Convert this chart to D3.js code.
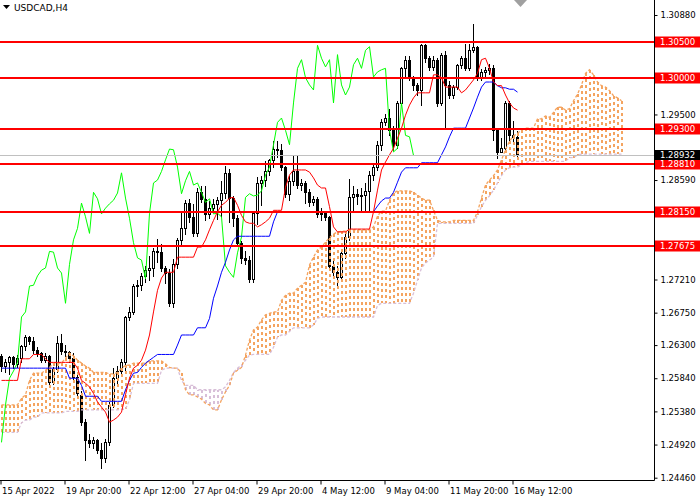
<!DOCTYPE html>
<html>
<head>
<meta charset="utf-8">
<script src="https://cdnjs.cloudflare.com/ajax/libs/d3/7.8.5/d3.min.js"></script>
<style>
  body { margin: 0; background: #fff; }
  svg { display: block; }
  text { font-family: "DejaVu Sans", sans-serif; }
</style>
</head>
<body>
<svg id="chart" width="700" height="500"></svg>
<script>
// USDCAD H4 candles, bar 0 = 15 Apr 2022
var opens = [
  1.2615,1.2601,1.2606,1.2613,1.2604,1.2612,1.2629,1.2641,1.2636,1.2623,
  1.2619,1.2609,1.2615,1.2579,1.2597,1.2633,1.2622,1.2620,1.2612,1.2586,
  1.2561,1.2523,1.2498,1.2494,1.2498,1.2484,1.2473,1.2495,1.2547,1.2584,
  1.2594,1.2606,1.2669,1.2676,1.2712,1.2713,1.2726,1.2734,1.2737,1.2760,
  1.2759,1.2737,1.2730,1.2688,1.2742,1.2776,1.2792,1.2827,1.2808,1.2785,
  1.2842,1.2833,1.2812,1.2820,1.2826,1.2831,1.2841,1.2869,1.2834,1.2806,
  1.2772,1.2751,1.2748,1.2722,1.2813,1.2855,1.2859,1.2871,1.2887,1.2902,
  1.2901,1.2877,1.2840,1.2858,1.2871,1.2852,1.2855,1.2842,1.2828,1.2833,
  1.2812,1.2813,1.2808,1.2740,1.2731,1.2724,1.2758,1.2780,1.2835,1.2840,
  1.2837,1.2838,1.2844,1.2866,1.2877,1.2908,1.2939,1.2945,1.2928,1.2908,
  1.2966,1.3014,1.3026,1.3001,1.2991,1.2984,1.3046,1.3028,1.3016,1.3026,
  1.2966,1.3033,1.2991,1.2977,1.2988,1.3019,1.3028,1.3014,1.3039,1.3044,
  1.3002,1.3009,1.3012,1.3014,1.2928,1.2898,1.2903,1.2966,1.2921,1.2919
];
var highs = [
  1.2619,1.2612,1.2616,1.2616,1.2617,1.2631,1.2645,1.2644,1.2643,1.2629,
  1.2622,1.2620,1.2617,1.2601,1.2644,1.2647,1.2631,1.2623,1.2620,1.2591,
  1.2568,1.2529,1.2508,1.2504,1.2501,1.2495,1.2501,1.2552,1.2599,1.2602,
  1.2612,1.2672,1.2684,1.2716,1.2722,1.2731,1.2741,1.2755,1.2766,1.2779,
  1.2772,1.2741,1.2737,1.2751,1.2780,1.2815,1.2833,1.2834,1.2827,1.2849,
  1.2852,1.2852,1.2831,1.2834,1.2837,1.2859,1.2880,1.2876,1.2838,1.2812,
  1.2776,1.2762,1.2755,1.2817,1.2865,1.2866,1.2887,1.2890,1.2915,1.2915,
  1.2910,1.2880,1.2866,1.2894,1.2894,1.2862,1.2859,1.2848,1.2838,1.2837,
  1.2822,1.2817,1.2810,1.2751,1.2741,1.2762,1.2787,1.2862,1.2852,1.2848,
  1.2849,1.2856,1.2873,1.2884,1.2915,1.2945,1.2952,1.2959,1.2935,1.2970,
  1.3017,1.3033,1.3033,1.3005,1.2995,1.3049,1.3049,1.3033,1.3033,1.3030,
  1.3037,1.3039,1.2998,1.2992,1.3021,1.3033,1.3049,1.3049,1.3077,1.3046,
  1.3014,1.3017,1.3021,1.3020,1.2931,1.2919,1.2970,1.2970,1.2942,1.2928
];
var lows = [
  1.2594,1.2592,1.2590,1.2598,1.2599,1.2606,1.2623,1.2631,1.2619,1.2615,
  1.2606,1.2606,1.2574,1.2576,1.2592,1.2617,1.2615,1.2606,1.2581,1.2559,
  1.2519,1.2470,1.2488,1.2487,1.2480,1.2459,1.2468,1.2491,1.2544,1.2576,
  1.2587,1.2595,1.2665,1.2673,1.2698,1.2706,1.2717,1.2720,1.2726,1.2745,
  1.2733,1.2716,1.2684,1.2683,1.2737,1.2770,1.2784,1.2801,1.2781,1.2781,
  1.2828,1.2803,1.2806,1.2815,1.2805,1.2808,1.2834,1.2801,1.2795,1.2767,
  1.2744,1.2742,1.2717,1.2717,1.2798,1.2824,1.2851,1.2866,1.2877,1.2891,
  1.2873,1.2835,1.2831,1.2852,1.2848,1.2845,1.2827,1.2823,1.2824,1.2808,
  1.2803,1.2803,1.2734,1.2723,1.2713,1.2720,1.2751,1.2776,1.2817,1.2826,
  1.2817,1.2815,1.2815,1.2859,1.2873,1.2901,1.2935,1.2921,1.2901,1.2903,
  1.2963,1.3002,1.2998,1.2984,1.2977,1.2963,1.3023,1.3012,1.3012,1.2962,
  1.2963,1.2931,1.2973,1.2973,1.2985,1.3014,1.3012,1.3012,1.3037,1.2998,
  1.2998,1.3003,1.3006,1.2915,1.2890,1.2898,1.2901,1.2910,1.2912,1.2890
];
var closes = [
  1.2601,1.2606,1.2613,1.2604,1.2612,1.2629,1.2641,1.2636,1.2623,1.2619,
  1.2609,1.2615,1.2579,1.2597,1.2633,1.2622,1.2620,1.2612,1.2586,1.2563,
  1.2523,1.2498,1.2494,1.2498,1.2484,1.2473,1.2495,1.2547,1.2584,1.2594,
  1.2606,1.2669,1.2676,1.2712,1.2713,1.2726,1.2734,1.2737,1.2760,1.2759,
  1.2737,1.2730,1.2688,1.2742,1.2776,1.2792,1.2827,1.2808,1.2785,1.2842,
  1.2833,1.2812,1.2820,1.2826,1.2831,1.2841,1.2869,1.2834,1.2806,1.2772,
  1.2751,1.2748,1.2722,1.2813,1.2855,1.2859,1.2871,1.2887,1.2902,1.2901,
  1.2877,1.2840,1.2858,1.2871,1.2852,1.2855,1.2842,1.2828,1.2833,1.2812,
  1.2813,1.2808,1.2740,1.2731,1.2724,1.2758,1.2780,1.2835,1.2840,1.2837,
  1.2838,1.2844,1.2866,1.2877,1.2908,1.2939,1.2945,1.2928,1.2908,1.2966,
  1.3014,1.3026,1.3001,1.2991,1.2984,1.3046,1.3028,1.3016,1.3026,1.2966,
  1.3033,1.2991,1.2977,1.2988,1.3019,1.3028,1.3014,1.3039,1.3044,1.3002,
  1.3009,1.3012,1.3014,1.2928,1.2898,1.2903,1.2966,1.2921,1.2919,1.28932
];

// Ichimoku lines
var tenkan = [
  1.2581,1.2581,1.2581,1.2581,1.2581,1.2611,1.2611,1.2611,1.2617,1.2617,
  1.2617,1.2611,1.2606,1.2606,1.2606,1.2606,1.2606,1.2606,1.2606,1.2598,
  1.2581,1.2577,1.2572,1.2563,1.2551,1.2544,1.2537,1.2523,1.2526,1.2530,
  1.2537,1.2561,1.2584,1.2598,1.2602,1.2609,1.2623,1.2644,1.2676,1.2706,
  1.2723,1.2731,1.2731,1.2731,1.2752,1.2752,1.2752,1.2752,1.2752,1.2766,
  1.2766,1.2776,1.2790,1.2803,1.2815,1.2824,1.2828,1.2834,1.2835,1.2824,
  1.2810,1.2801,1.2799,1.2799,1.2794,1.2797,1.2801,1.2806,1.2817,1.2817,
  1.2817,1.2849,1.2866,1.2873,1.2873,1.2873,1.2873,1.2870,1.2862,1.2852,
  1.2848,1.2848,1.2822,1.2794,1.2787,1.2787,1.2787,1.2791,1.2791,1.2791,
  1.2791,1.2791,1.2791,1.2815,1.2845,1.2873,1.2884,1.2894,1.2903,1.2917,
  1.2931,1.2949,1.2963,1.2973,1.2980,1.2980,1.2980,1.2980,1.3005,1.3005,
  1.3001,1.2988,1.2988,1.2988,1.2988,1.2980,1.2984,1.2991,1.2998,1.3007,
  1.3026,1.3028,1.3014,1.2995,1.2990,1.2990,1.2977,1.2966,1.2959,1.2956
];
var kijun = [
  1.2598,1.2598,1.2598,1.2598,1.2598,1.2598,1.2598,1.2598,1.2598,1.2598,
  1.2598,1.2598,1.2598,1.2598,1.2598,1.2598,1.2598,1.2584,1.2584,1.2584,
  1.2574,1.2559,1.2559,1.2559,1.2559,1.2552,1.2552,1.2552,1.2552,1.2552,
  1.2552,1.2568,1.2581,1.2591,1.2592,1.2599,1.2605,1.2609,1.2613,1.2617,
  1.2617,1.2617,1.2617,1.2617,1.2630,1.2644,1.2644,1.2644,1.2644,1.2654,
  1.2654,1.2654,1.2667,1.2695,1.2712,1.2731,1.2745,1.2762,1.2776,1.2781,
  1.2781,1.2781,1.2781,1.2781,1.2781,1.2781,1.2781,1.2781,1.2801,1.2815,
  1.2815,1.2815,1.2815,1.2815,1.2815,1.2815,1.2815,1.2815,1.2815,1.2815,
  1.2815,1.2815,1.2815,1.2815,1.2815,1.2815,1.2815,1.2815,1.2815,1.2815,
  1.2815,1.2815,1.2815,1.2815,1.2823,1.2830,1.2834,1.2834,1.2842,1.2856,
  1.2870,1.2876,1.2876,1.2876,1.2876,1.2883,1.2883,1.2883,1.2883,1.2883,
  1.2894,1.2905,1.2919,1.2931,1.2931,1.2931,1.2931,1.2945,1.2959,1.2974,
  1.2988,1.2995,1.2995,1.2995,1.2990,1.2987,1.2987,1.2985,1.2985,1.2981
];
// cloud edges, 26 bars past the last candle
var spanA = [
  1.2547,1.2547,1.2547,1.2547,1.2547,1.2556,1.2561,1.2581,1.2591,1.2591,
  1.2591,1.2595,1.2599,1.2605,1.2605,1.2605,1.2612,1.2619,1.2615,1.2609,
  1.2605,1.2601,1.2598,1.2592,1.2592,1.2592,1.2592,1.2590,1.2590,1.2592,
  1.2598,1.2602,1.2602,1.2605,1.2605,1.2605,1.2605,1.2608,1.2608,1.2608,
  1.2608,1.2604,1.2599,1.2598,1.2598,1.2591,1.2568,1.2561,1.2561,1.2558,
  1.2555,1.2549,1.2547,1.2540,1.2540,1.2554,1.2565,1.2574,1.2591,1.2595,
  1.2599,1.2616,1.2637,1.2651,1.2655,1.2665,1.2672,1.2674,1.2676,1.2676,
  1.2692,1.2699,1.2702,1.2702,1.2709,1.2713,1.2717,1.2741,1.2752,1.2762,
  1.2766,1.2773,1.2779,1.2784,1.2787,1.2788,1.2788,1.2790,1.2790,1.2790,
  1.2790,1.2790,1.2790,1.2794,1.2809,1.2816,1.2816,1.2831,1.2841,1.2844,
  1.2844,1.2844,1.2844,1.2842,1.2838,1.2834,1.2831,1.2831,1.2817,1.2803,
  1.2801,1.2801,1.2801,1.2803,1.2803,1.2803,1.2803,1.2803,1.2803,1.2815,
  1.2834,1.2852,1.2859,1.2865,1.2873,1.2887,1.2901,1.2913,1.2920,1.2924,
  1.2928,1.2931,1.2931,1.2931,1.2944,1.2944,1.2948,1.2946,1.2953,1.2960,
  1.2960,1.2956,1.2958,1.2969,1.2978,1.2991,1.3007,1.3012,1.3005,1.2995,
  1.2990,1.2988,1.2983,1.2976,1.2973,1.2969
];
var spanB = [
  1.2509,1.2509,1.2509,1.2509,1.2509,1.2522,1.2526,1.2526,1.2530,1.2530,
  1.2536,1.2536,1.2536,1.2536,1.2536,1.2536,1.2538,1.2538,1.2538,1.2538,
  1.2540,1.2540,1.2540,1.2540,1.2540,1.2540,1.2540,1.2540,1.2540,1.2540,
  1.2541,1.2541,1.2554,1.2577,1.2577,1.2577,1.2577,1.2577,1.2577,1.2577,
  1.2595,1.2598,1.2598,1.2598,1.2598,1.2581,1.2574,1.2574,1.2574,1.2568,
  1.2568,1.2568,1.2568,1.2568,1.2568,1.2568,1.2572,1.2581,1.2592,1.2598,
  1.2602,1.2609,1.2616,1.2617,1.2617,1.2617,1.2617,1.2617,1.2627,1.2641,
  1.2644,1.2644,1.2649,1.2654,1.2654,1.2654,1.2654,1.2654,1.2658,1.2667,
  1.2669,1.2669,1.2669,1.2669,1.2669,1.2669,1.2669,1.2669,1.2669,1.2669,
  1.2669,1.2669,1.2669,1.2669,1.2685,1.2688,1.2688,1.2688,1.2688,1.2688,
  1.2688,1.2688,1.2688,1.2702,1.2720,1.2737,1.2744,1.2748,1.2752,1.2799,
  1.2799,1.2799,1.2799,1.2799,1.2799,1.2799,1.2799,1.2799,1.2799,1.2810,
  1.2822,1.2831,1.2837,1.2845,1.2855,1.2865,1.2873,1.2876,1.2877,1.2877,
  1.2880,1.2883,1.2885,1.2885,1.2885,1.2885,1.2885,1.2885,1.2885,1.2885,
  1.2885,1.2885,1.2890,1.2890,1.2894,1.2895,1.2895,1.2895,1.2895,1.2895,
  1.2895,1.2895,1.2895,1.2895,1.2895,1.2895
];

var levels = [1.30500, 1.30000, 1.29300, 1.28810, 1.28150, 1.27675];
var lastPrice = 1.28932;
var priceTicks = [1.30880, 1.30420, 1.29960, 1.29500, 1.29040, 1.28590, 1.28130,
  1.27670, 1.27210, 1.26750, 1.26300, 1.25840, 1.25380, 1.24920, 1.24460];
var timeTickBars = [0, 16, 32, 48, 64, 80, 96, 112, 128];
var timeLabels = ["15 Apr 2022", "19 Apr 20:00", "22 Apr 12:00", "27 Apr 04:00",
  "29 Apr 20:00", "4 May 12:00", "9 May 04:00", "11 May 20:00", "16 May 12:00"];

var svg = d3.select("#chart");
var plotRight = 654.5, plotBottom = 480.5;

var x = d3.scaleLinear().domain([0, 155]).range([1.5, 621.5]);
var xTick = d3.scaleLinear().domain([0, 155]).range([0.5, 620.5]);
var y = d3.scaleLinear().domain([1.24460, 1.30880]).range([477.7, 15]);
function py(v) { return Math.round(y(v)) + 0.5; }

var plot = svg.append("g");

// candles
var bars = d3.range(closes.length);
plot.selectAll("line.wick").data(bars).enter().append("line")
  .attr("class", "wick")
  .attr("x1", function(i) { return x(i); })
  .attr("x2", function(i) { return x(i); })
  .attr("y1", function(i) { return py(highs[i]); })
  .attr("y2", function(i) { return py(lows[i]); })
  .attr("stroke", "#000")
  .attr("shape-rendering", "crispEdges");

plot.selectAll("path.body").data(bars).enter().append("path")
  .attr("class", "body")
  .attr("d", function(i) {
    var t = py(Math.max(opens[i], closes[i]));
    var b = py(Math.min(opens[i], closes[i]));
    var l = x(i) - 1, r = x(i) + 1;
    return "M" + l + "," + t + "H" + r + "V" + b + "H" + l + "Z";
  })
  .attr("fill", function(i) { return closes[i] >= opens[i] ? "#fff" : "#000"; })
  .attr("stroke", "#000")
  .attr("shape-rendering", "crispEdges");

// cloud hatch, dashed columns
var cloudBars = d3.range(spanA.length);
plot.selectAll("line.hatch").data(cloudBars).enter().append("line")
  .attr("class", "hatch")
  .attr("x1", function(i) { return x(i) + 0.5; })
  .attr("x2", function(i) { return x(i) + 0.5; })
  .attr("y1", function(i) { return Math.round(y(spanA[i])); })
  .attr("y2", function(i) { return Math.round(y(spanB[i])); })
  .attr("stroke", function(i) { return spanA[i] >= spanB[i] ? "#F4A460" : "#D8BFD8"; })
  .attr("stroke-width", 2)
  .attr("stroke-dasharray", "3,3")
  .attr("shape-rendering", "crispEdges");

var lineGen = d3.line()
  .x(function(d) { return x(d[0]); })
  .y(function(d) { return y(d[1]); });

function drawLine(values, offset, color, dash, width) {
  var pts = values.map(function(v, i) { return [i + offset, v]; })
    .filter(function(p) { return p[0] >= 0; });
  var p = plot.append("path")
    .attr("d", lineGen(pts))
    .attr("fill", "none")
    .attr("stroke", color)
    .attr("stroke-width", width || 1);
  if (dash) p.attr("stroke-dasharray", dash);
}

drawLine(spanB, 0, "#D8BFD8", "3,2", 1.3);
drawLine(spanA, 0, "#F4A460", "3,2", 1.3);
drawLine(closes, -26, "#00FF00");   // chikou
drawLine(kijun, 0, "#0000FF");
drawLine(tenkan, 0, "#FF0000");

// bid line
svg.append("line")
  .attr("x1", 0).attr("x2", plotRight)
  .attr("y1", py(lastPrice)).attr("y2", py(lastPrice))
  .attr("stroke", "#C0C0C0");

// horizontal levels
svg.selectAll("line.level").data(levels).enter().append("line")
  .attr("class", "level")
  .attr("x1", 0).attr("x2", plotRight)
  .attr("y1", function(d) { return Math.round(y(d)); })
  .attr("y2", function(d) { return Math.round(y(d)); })
  .attr("stroke", "#FF0000")
  .attr("stroke-width", 2);

// frame
svg.append("path")
  .attr("d", "M" + plotRight + ",0V" + plotBottom + "H0")
  .attr("fill", "none").attr("stroke", "#000");

// price axis, the labels under a level box are left out
var yAxis = d3.axisRight(y).tickSize(3).tickPadding(3)
  .tickValues(priceTicks.filter(function(t) {
    return levels.concat([lastPrice]).every(function(l) { return Math.abs(y(t) - y(l)) > 9; });
  }))
  .tickFormat(d3.format(".5f"));
var ya = svg.append("g").attr("transform", "translate(" + plotRight + ",0)").call(yAxis);
ya.select(".domain").remove();
ya.selectAll("text").style("font-family", "DejaVu Sans").style("font-size", "8.5px").attr("fill", "#000");

// time axis
var xAxis = d3.axisBottom(xTick).tickValues(timeTickBars).tickSize(4).tickPadding(3)
  .tickFormat(function(d, i) { return timeLabels[i]; });
var xa = svg.append("g").attr("transform", "translate(0," + plotBottom + ")").call(xAxis);
xa.select(".domain").remove();
xa.selectAll("text").attr("text-anchor", "start").attr("x", 1)
  .style("font-family", "DejaVu Sans").style("font-size", "8.5px").attr("fill", "#000");

// level labels
var lab = svg.selectAll("g.lvl").data(levels).enter().append("g")
  .attr("class", "lvl")
  .attr("transform", function(d) { return "translate(655," + Math.round(y(d)) + ")"; });
lab.append("rect").attr("x", 0).attr("y", -5.5).attr("width", 45).attr("height", 11).attr("fill", "#FF0000");
lab.append("text").attr("x", 5).attr("dy", "0.35em")
  .style("font-size", "8.5px").attr("fill", "#fff")
  .text(function(d) { return d3.format(".5f")(d); });

// last price label
var lp = svg.append("g").attr("transform", "translate(655," + Math.round(y(lastPrice)) + ")");
lp.append("rect").attr("x", 0).attr("y", -5).attr("width", 45).attr("height", 10).attr("fill", "#000");
lp.append("text").attr("x", 5).attr("dy", "0.35em").style("font-size", "8.5px").attr("fill", "#fff")
  .text(d3.format(".5f")(lastPrice));

// title and shift marker
svg.append("path").attr("d", "M3,5H10L6.5,9Z").attr("fill", "#000");
svg.append("text").attr("x", 14).attr("y", 11).style("font-size", "9px").attr("fill", "#000").text("USDCAD,H4");
svg.append("path").attr("d", "M514,0H527L520.5,7Z").attr("fill", "#A0A0A0");
</script>
</body>
</html>
